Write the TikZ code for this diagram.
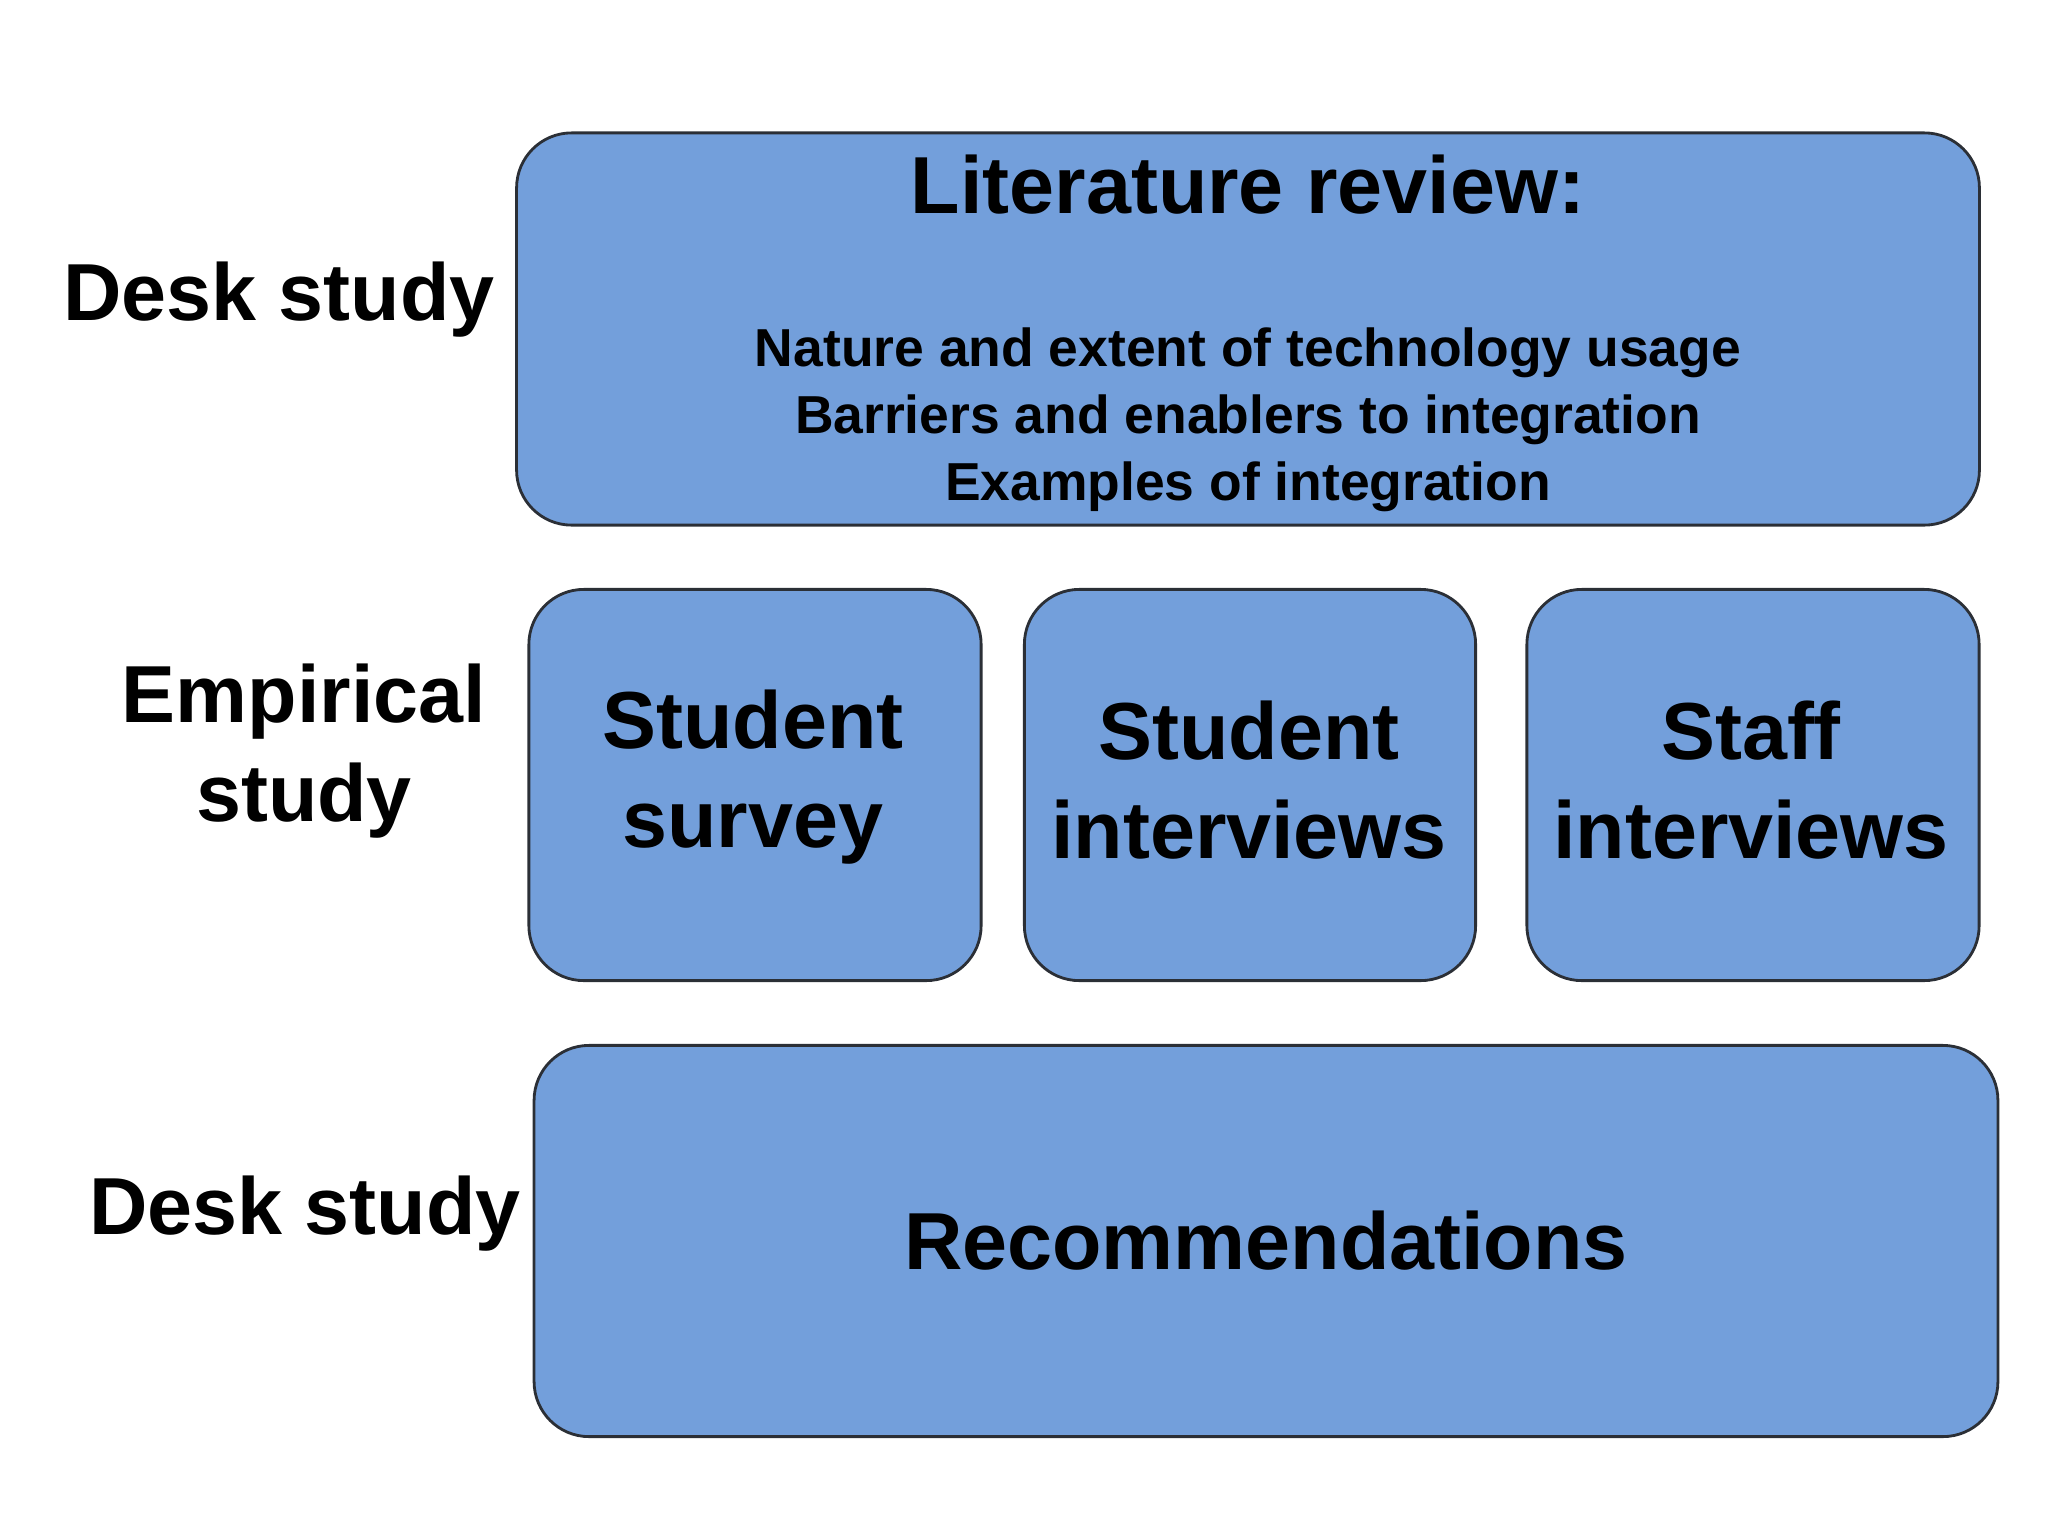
\documentclass[tikz,border=0pt]{standalone}
\usepackage{fontspec}
\setmainfont{Liberation Sans}
\definecolor{BoxFill}{HTML}{739FDB}
\definecolor{BoxLine}{HTML}{2B2F36}
\tikzset{box/.style={draw=BoxLine,fill=BoxFill,line width=0.8pt,rounded corners=5.5mm,
 align=center,inner sep=2pt,font=\bfseries\fontsize{23}{28}\selectfont},
 phase/.style={align=center,inner sep=0pt,font=\bfseries\fontsize{23}{28}\selectfont},
 topic/.style={align=center,inner sep=0pt,font=\bfseries\fontsize{15.2}{19}\selectfont}}

\begin{document}
\begin{tikzpicture}[x=0.01cm,y=-0.01cm]
\useasboundingbox (0,0) rectangle (2048,1536);
% stage labels
\node[phase,anchor=base] (desktop) at (279,320) {Desk study};
\node[phase] (empirical) at (304,751) {Empirical\\study};
\node[phase,anchor=base] (deskbottom) at (305,1234) {Desk study};
% literature review
\node[box,minimum width=14.62cm,minimum height=3.92cm] (lit) at (1248,329) {};
\node[phase,anchor=base] (littitle) at (1248,213) {Literature review:};
\node[topic] (littopics) at (1248,420) {Nature and extent of technology usage\\
 Barriers and enablers to integration\\Examples of integration};
% empirical work
\node[box,minimum width=4.52cm,minimum height=3.91cm] (survey) at (755,785) {};
\node[box,minimum width=4.51cm,minimum height=3.91cm] (stuint) at (1250,785) {};
\node[box,minimum width=4.52cm,minimum height=3.91cm] (staffint) at (1753,785) {};
\node[phase] (surveytext) at (753,777) {Student\\survey};
\node[phase] (stuinttext) at (1249,780) {Student\\interviews};
\node[phase] (staffinttext) at (1751,780) {Staff\\interviews};
% outcome
\node[box,minimum width=14.63cm,minimum height=3.91cm] (recs) at (1266,1241) {Recommendations};
\end{tikzpicture}
\end{document}
